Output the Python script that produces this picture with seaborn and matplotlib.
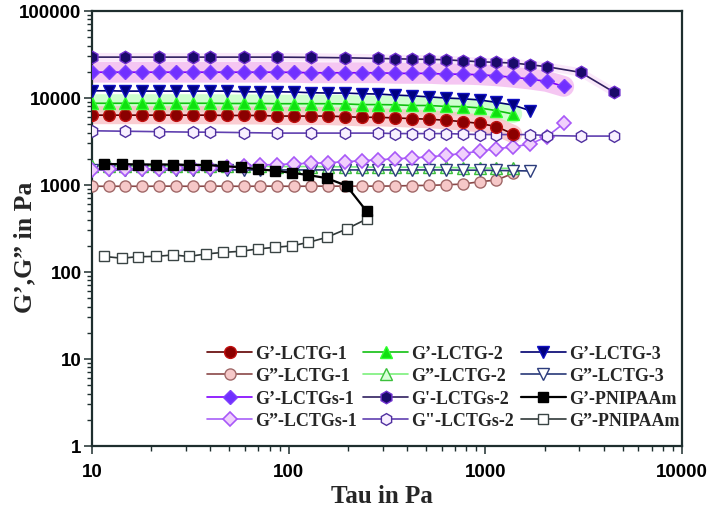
import matplotlib
matplotlib.use("Agg")
import matplotlib.pyplot as plt
import seaborn as sns
from matplotlib.ticker import LogLocator, FuncFormatter, NullFormatter

sns.set_style("ticks")
plt.rcParams["font.family"] = ["Liberation Sans", "DejaVu Sans"]

# ---------------- data ----------------
TAU = [10.0, 12.2, 14.8, 18.0, 22.0, 26.8, 32.7, 39.8, 48.5, 59.0, 71.9, 87.6,
       107, 130, 158, 193, 235, 286, 348, 424, 517, 629, 767, 934, 1138, 1386,
       1688, 2056, 2504, 3050, 3715, 4525]

tau_lctg1 = TAU[:26]
gp_lctg1 = [6350, 6350, 6350, 6350, 6350, 6350, 6350, 6350, 6300, 6300, 6300, 6200,
            6200, 6200, 6200, 6100, 6000, 6000, 5900, 5800, 5700, 5550, 5350, 5100,
            4700, 3850]
gpp_lctg1 = [970, 965, 970, 965, 970, 970, 965, 970, 970, 965, 970, 970, 965, 970,
             970, 970, 970, 970, 975, 985, 990, 1005, 1025, 1090, 1140, 1360]

tau_lctg2 = TAU[:26]
gp_lctg2 = [8700, 8700, 8700, 8700, 8700, 8700, 8700, 8700, 8650, 8650, 8650, 8600,
            8600, 8600, 8600, 8550, 8400, 8400, 8350, 8200, 8200, 8000, 7950, 7700,
            7150, 6550]
gpp_lctg2 = [1660, 1650, 1660, 1650, 1650, 1650, 1640, 1650, 1640, 1640, 1640, 1630,
             1630, 1630, 1620, 1620, 1610, 1600, 1600, 1600, 1600, 1590, 1580, 1570,
             1560, 1550]

tau_lctg3 = TAU[:27]
gp_lctg3 = [12100, 12100, 12000, 12000, 12000, 12000, 12000, 12000, 12000, 11800,
            11800, 11800, 11700, 11500, 11400, 11400, 11200, 11100, 10800, 10600,
            10300, 10000, 9800, 9500, 8900, 8300, 7150]
gpp_lctg3 = [1500, 1490, 1490, 1500, 1490, 1490, 1490, 1490, 1490, 1490, 1490, 1490,
             1490, 1490, 1490, 1490, 1490, 1490, 1490, 1490, 1490, 1490, 1480, 1480,
             1470, 1460, 1450]

tau_lctgs1 = TAU[:29]
gp_lctgs1 = [19800, 19800, 19800, 19800, 19800, 19800, 19800, 19800, 19800, 19800,
             19800, 19800, 19700, 19500, 19500, 19500, 19500, 19500, 19200, 19200,
             19200, 18800, 18800, 18500, 18000, 17300, 16500, 15500, 13600]
gpp_lctgs1 = [1500, 1510, 1520, 1530, 1540, 1550, 1560, 1580, 1600, 1650, 1700, 1720,
              1750, 1780, 1800, 1850, 1900, 1950, 2000, 2050, 2100, 2200, 2300, 2450,
              2600, 2750, 2950, 3600, 5100]

tau_lctgs2 = [10.0, 14.8, 22.0, 32.7, 39.8, 59.0, 87.6, 130, 193, 286, 348, 424, 517,
              629, 767, 934, 1138, 1386, 1688, 2056, 3050, 4525]
gp_lctgs2 = [29500, 29500, 29500, 29500, 29500, 29500, 29500, 29300, 29000, 28500,
             28200, 28000, 27800, 27500, 26800, 26100, 25700, 25200, 24100, 22900,
             19700, 11600]
gpp_lctgs2 = [4200, 4150, 4100, 4050, 4050, 4000, 3950, 3950, 3950, 3950, 3900, 3900,
              3900, 3900, 3850, 3800, 3800, 3800, 3800, 3700, 3650, 3650]

tau_pnipaam = [11.5, 14.2, 17.1, 21.1, 25.8, 31.0, 37.9, 46.3, 57.1, 69.6, 84.9, 104,
               126, 156, 197, 249]
gp_pnipaam = [1740, 1740, 1720, 1720, 1720, 1700, 1700, 1650, 1600, 1520, 1460, 1380,
              1300, 1200, 980, 500]
gpp_pnipaam = [151, 144, 150, 151, 157, 151, 161, 168, 173, 184, 192, 200, 219, 250,
               312, 406]

labels = ["G’-LCTG-1", "G”-LCTG-1", "G’-LCTGs-1", "G”-LCTGs-1",
          "G’-LCTG-2", "G”-LCTG-2", "G'-LCTGs-2", 'G"-LCTGs-2',
          "G’-LCTG-3", "G”-LCTG-3", "G’-PNIPAAm", "G”-PNIPAAm"]

# ---------------- figure ----------------
W, H = 710, 510
fig = plt.figure(figsize=(W / 100, H / 100), dpi=100)
ax = fig.add_axes([92 / W, 63 / H, 590 / W, 435 / H])
ax.set_xscale("log")
ax.set_yscale("log")


def glow(x, y, color, lw, alpha):
    sns.lineplot(x=x, y=y, ax=ax, color=color, lw=lw, alpha=alpha,
                 solid_capstyle="round", legend=False, zorder=1)


def series(x, y, line, marker, ms, fc, ec, lw=1.2, mew=1.0, z=3):
    sns.lineplot(x=x, y=y, ax=ax, color=line, lw=lw, marker=marker, markersize=ms,
                 markerfacecolor=fc, markeredgecolor=ec, markeredgewidth=mew,
                 legend=False, zorder=z)
    return ax.lines[-1]


# soft halos seen around the filled series in the reference
glow(tau_lctgs1, gp_lctgs1, "#f2b4ee", 15, 0.75)
glow(tau_lctgs2, gp_lctgs2, "#f4c8f4", 6, 0.4)
glow(tau_lctg2, gp_lctg2, "#b8ffb8", 13, 0.7)
glow(tau_lctg1, gp_lctg1, "#f8b8c0", 13, 0.7)

h = {}
h["ppn"] = series(tau_pnipaam, gpp_pnipaam, "#303838", "s", 6.5, "white", "#3a4444", lw=1.2, z=3)
h["pn"] = series(tau_pnipaam, gp_pnipaam, "black", "s", 7.2, "black", "black", lw=1.6, z=4)
h["pp1"] = series(tau_lctg1, gpp_lctg1, "#8a4848", "o", 8.0, "#f6c8c8", "#a06868", z=3)
h["pp2"] = series(tau_lctg2, gpp_lctg2, "#7cf07c", "^", 8.0, "#d8ffd8", "#3cc03c", z=3)
h["pp3"] = series(tau_lctg3, gpp_lctg3, "#283878", "v", 8.0, "white", "#2c3c7c", z=3)
h["pps1"] = series(tau_lctgs1, gpp_lctgs1, "#a860f8", "D", 7.0, "#f0d0fc", "#a858f8", mew=1.2, z=3)
h["pps2"] = series(tau_lctgs2, gpp_lctgs2, "#6040b0", "h", 8.5, "#f8f0ff", "#5030a0", z=3)
h["p1"] = series(tau_lctg1, gp_lctg1, "#600000", "o", 8.5, "#8b0000", "#c01010", z=5)
h["p2"] = series(tau_lctg2, gp_lctg2, "#10c010", "^", 8.5, "#10e010", "#30ff30", z=5)
h["p3"] = series(tau_lctg3, gp_lctg3, "#000070", "v", 8.5, "#000080", "#1010c0", z=5)
h["ps1"] = series(tau_lctgs1, gp_lctgs1, "#8000ff", "D", 7.5, "#7030ff", "#8040ff", z=5)
h["ps2"] = series(tau_lctgs2, gp_lctgs2, "#302060", "h", 9.0, "#1a0a6a", "#7030d0", z=6)

order = ["p1", "pp1", "ps1", "pps1", "p2", "pp2", "ps2", "pps2", "p3", "pp3", "pn", "ppn"]

# ---------------- axes styling ----------------
ax.set_xlim(10, 10000)
ax.set_ylim(1, 100000)
ax.xaxis.set_major_locator(LogLocator(base=10, numticks=10))
ax.yaxis.set_major_locator(LogLocator(base=10, numticks=10))
ax.xaxis.set_minor_locator(LogLocator(base=10, subs=range(2, 10), numticks=50))
ax.yaxis.set_minor_locator(LogLocator(base=10, subs=range(2, 10), numticks=50))
fmt = FuncFormatter(lambda v, p: f"{v:.0f}")
ax.xaxis.set_major_formatter(fmt)
ax.yaxis.set_major_formatter(fmt)
ax.xaxis.set_minor_formatter(NullFormatter())
ax.yaxis.set_minor_formatter(NullFormatter())

spine_c = "#1e2e2e"
for s in ax.spines.values():
    s.set_visible(True)
    s.set_linewidth(1.6)
    s.set_color(spine_c)
ax.tick_params(axis="both", which="major", direction="out", length=6, width=1.1,
               color=spine_c, top=False, right=False)
ax.tick_params(axis="both", which="minor", direction="out", length=3.6, width=1.0,
               color=spine_c, top=False, right=False)
ax.tick_params(axis="x", which="major", pad=6)
ax.tick_params(axis="y", which="major", pad=1.5)
for t in ax.get_xticklabels() + ax.get_yticklabels():
    t.set_fontfamily(["Liberation Sans", "DejaVu Sans"])
    t.set_fontweight("bold")
    t.set_fontsize(13.5)
    t.set_color("black")
ax.grid(False)

serif = ["Liberation Serif", "DejaVu Serif"]
fig.text(382 / W, 1 - 497 / H, "Tau in Pa", ha="center", va="center",
         fontsize=18, fontweight="bold", family=serif)
fig.text(25 / W, 1 - 247 / H, "G’,G” in Pa", ha="center", va="center", rotation=90,
         fontsize=18.5, fontweight="bold", family=serif)

leg = ax.legend([h[k] for k in order], labels, ncol=3, loc="upper left",
                bbox_to_anchor=(207 / W, 1 - 346 / H), bbox_transform=fig.transFigure,
                frameon=False, borderpad=0, borderaxespad=0, handlelength=2.5,
                handletextpad=0.17, columnspacing=0.35, labelspacing=0.3,
                numpoints=1, prop={"family": serif, "weight": "bold", "size": 13})

fig.savefig("out.png", dpi=100)
